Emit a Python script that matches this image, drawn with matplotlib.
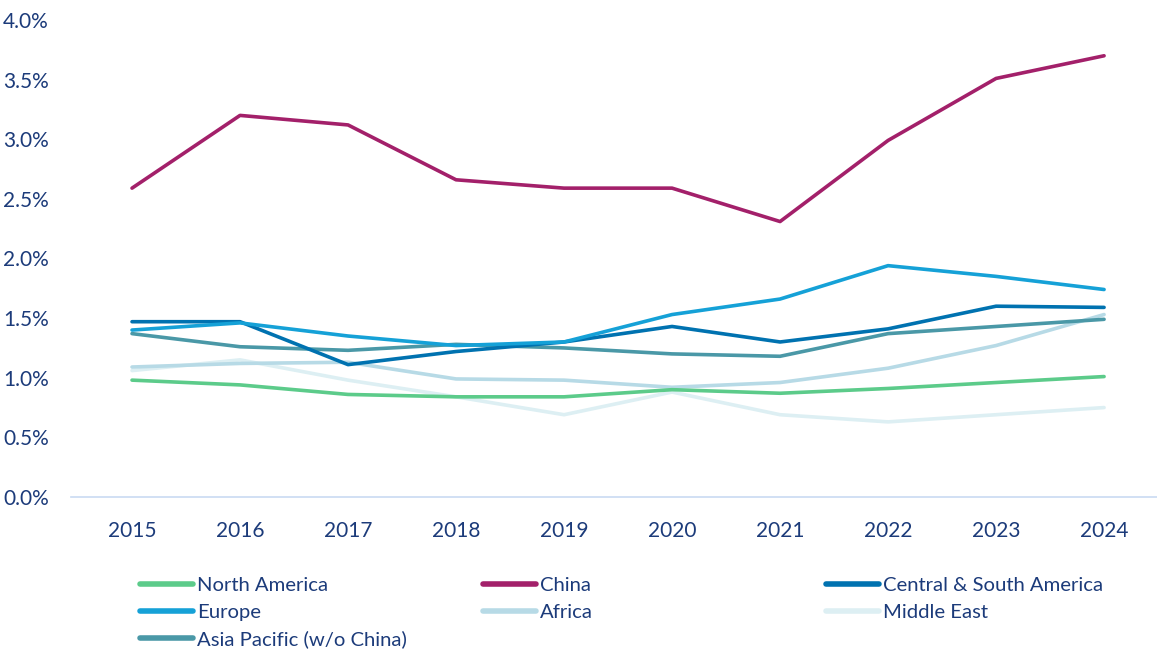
import matplotlib
matplotlib.use("Agg")
import matplotlib.pyplot as plt
from matplotlib.lines import Line2D
from matplotlib.ticker import FuncFormatter

# Data (share in %)
years = ["2015", "2016", "2017", "2018", "2019", "2020", "2021", "2022", "2023", "2024"]
north_america = [0.98, 0.94, 0.86, 0.84, 0.84, 0.90, 0.87, 0.91, 0.96, 1.01]
china = [2.59, 3.20, 3.12, 2.66, 2.59, 2.59, 2.31, 2.99, 3.51, 3.70]
central_south_america = [1.47, 1.47, 1.11, 1.22, 1.30, 1.43, 1.30, 1.41, 1.60, 1.59]
europe = [1.40, 1.46, 1.35, 1.27, 1.30, 1.53, 1.66, 1.94, 1.85, 1.74]
africa = [1.09, 1.12, 1.13, 0.99, 0.98, 0.92, 0.96, 1.08, 1.27, 1.53]
middle_east = [1.06, 1.15, 0.98, 0.84, 0.69, 0.88, 0.69, 0.63, 0.69, 0.75]
asia_pacific = [1.37, 1.26, 1.23, 1.28, 1.25, 1.20, 1.18, 1.37, 1.43, 1.49]

series = [
    ("North America", north_america, "#5ccb8a"),
    ("China", china, "#a3206a"),
    ("Central & South America", central_south_america, "#0072b0"),
    ("Europe", europe, "#15a1d7"),
    ("Africa", africa, "#b7dae6"),
    ("Middle East", middle_east, "#ddeff3"),
    ("Asia Pacific (w/o China)", asia_pacific, "#4a98a7"),
]
# draw order so the light lines sit underneath
draw_order = ["Middle East", "Africa", "North America", "Asia Pacific (w/o China)",
              "Central & South America", "Europe", "China"]

text_color = "#1c3b7a"
plt.rcParams["font.family"] = ["Lato", "DejaVu Sans"]

fig = plt.figure(figsize=(11.57, 6.55), dpi=100)
W, H = 1157, 655
ax = fig.add_axes([71 / W, 1 - 497 / H, (1157 - 71) / W, (497 - 20) / H])

x = list(range(len(years)))
lookup = {name: (vals, col) for name, vals, col in series}
for name in draw_order:
    vals, col = lookup[name]
    ax.plot(x, [v / 100 for v in vals], color=col, lw=2.6, solid_capstyle="round",
            solid_joinstyle="round")

ax.set_xlim(-0.565, 9.49)
ax.set_ylim(0, 0.04)
ax.set_yticks([i * 0.005 for i in range(9)])
ax.yaxis.set_major_formatter(FuncFormatter(lambda v, p: f"{v * 100:.1f}%"))
ax.set_xticks(x)
ax.set_xticklabels(years)

for s in ["top", "right", "left"]:
    ax.spines[s].set_visible(False)
ax.spines["bottom"].set_color("#c9daf2")
ax.spines["bottom"].set_linewidth(1.2)
ax.tick_params(axis="both", length=0, labelsize=15, labelcolor=text_color)
ax.tick_params(axis="x", pad=17)
ax.tick_params(axis="y", pad=16)

# Legend: three separate columns to mimic the fixed column spacing
columns = [
    (["North America", "Europe", "Asia Pacific (w/o China)"], 140),
    (["China", "Africa"], 483),
    (["Central & South America", "Middle East"], 826),
]
for names, xpix in columns:
    handles = [Line2D([], [], color=lookup[n][1], lw=4, solid_capstyle="round") for n in names]
    fig.legend(handles, names, loc="upper left", bbox_to_anchor=(xpix / W, 1 - 577 / H),
               frameon=False, fontsize=14.6, labelcolor=text_color, handlelength=2.6,
               handletextpad=0.2, borderpad=0, borderaxespad=0, labelspacing=0.46)

fig.savefig("out.png", dpi=100)
